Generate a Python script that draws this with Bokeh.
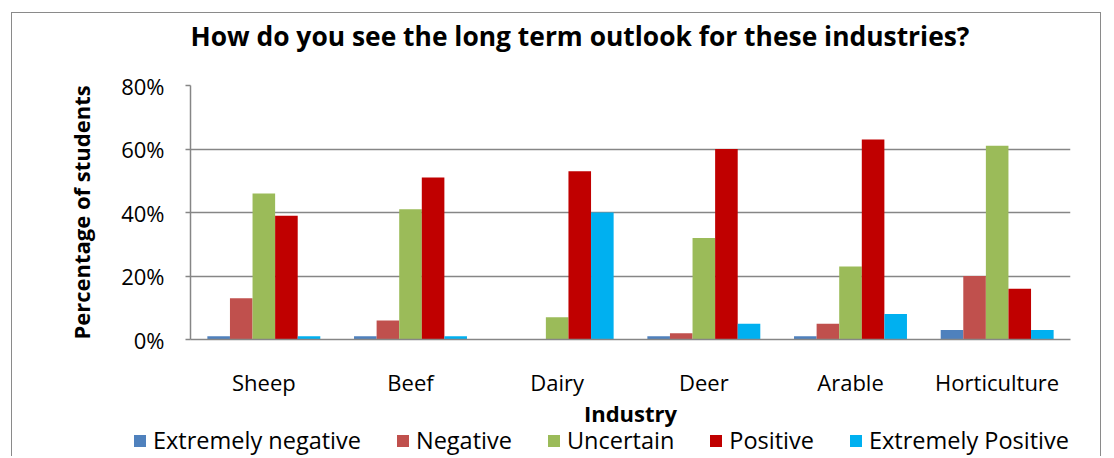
from bokeh.plotting import figure
from bokeh.models import (FactorRange, Range1d, NumeralTickFormatter, FixedTicker, Legend,
                          LegendItem, Label, ColumnDataSource)
from bokeh.transform import dodge
from bokeh.embed import file_html
from bokeh.resources import INLINE

title_text = "How do you see the long term outlook for these industries?"
industries = ["Sheep", "Beef", "Dairy", "Deer", "Arable", "Horticulture"]
series_names = ["Extremely negative", "Negative", "Uncertain", "Positive", "Extremely Positive"]
extremely_negative = [0.01, 0.01, 0.00, 0.01, 0.01, 0.03]
negative = [0.13, 0.06, 0.00, 0.02, 0.05, 0.20]
uncertain = [0.46, 0.41, 0.07, 0.32, 0.23, 0.61]
positive = [0.39, 0.51, 0.53, 0.60, 0.63, 0.16]
extremely_positive = [0.01, 0.01, 0.40, 0.05, 0.08, 0.03]
y_ticks = [0, 0.2, 0.4, 0.6, 0.8]
colors = ["#4F81BD", "#C0504D", "#9BBB59", "#C00000", "#00B0F0"]

FONT = "Open Sans"
W = 1090
TH, MH, LH = 58, 362, 32
BORDER = "1.5px solid #8a8a8a"


def blank(h, styles, margin=(0, 0, 0, 11)):
    f = figure(width=W, height=h, output_backend="svg", toolbar_location=None,
               x_axis_location=None, y_axis_location=None,
               x_range=Range1d(0, W), y_range=Range1d(h, 0),
               min_border_left=0, min_border_right=0, min_border_top=0, min_border_bottom=0,
               margin=margin, styles=styles)
    f.outline_line_color = None
    f.grid.grid_line_color = None
    return f


# ---- title strip
pt = blank(TH, {"border-top": BORDER, "border-left": BORDER, "border-right": BORDER},
           margin=(12, 0, 0, 11))
pt.add_layout(Label(x=178, y=22, text=title_text, text_font=FONT, text_font_size="26.4px",
                    text_font_style="bold", text_color="#000000", text_baseline="middle"))

# ---- main chart
src = ColumnDataSource(dict(ind=industries, en=extremely_negative, ng=negative,
                            un=uncertain, po=positive, ep=extremely_positive))
p = figure(x_range=FactorRange(*industries, range_padding=0), y_range=Range1d(0, 0.8),
           width=W, height=MH, output_backend="svg", toolbar_location=None,
           min_border_left=178, min_border_right=32, min_border_top=15, min_border_bottom=93,
           margin=(0, 0, 0, 11), styles={"border-left": BORDER, "border-right": BORDER})

bw = 0.154
cols = ["en", "ng", "un", "po", "ep"]
for i, c in enumerate(cols):
    p.vbar(x=dodge("ind", (i - 2) * bw, range=p.x_range), top=c, width=bw, source=src,
           fill_color=colors[i], line_color=None)

p.outline_line_color = None
p.xgrid.grid_line_color = None
p.ygrid.grid_line_color = "#868686"
p.ygrid.grid_line_width = 1.5

p.yaxis.ticker = FixedTicker(ticks=y_ticks)
p.yaxis.formatter = NumeralTickFormatter(format="0%")
p.yaxis.axis_label = "Percentage of students"
p.yaxis.axis_label_text_font = FONT
p.yaxis.axis_label_text_font_size = "22px"
p.yaxis.axis_label_text_font_style = "bold"
p.yaxis.axis_label_text_color = "#000000"
p.yaxis.axis_label_standoff = 22
p.yaxis.major_label_text_font = FONT
p.yaxis.major_label_text_font_size = "22px"
p.yaxis.major_label_text_color = "#000000"
p.yaxis.major_label_standoff = 21
p.yaxis.major_tick_out = 5
p.yaxis.major_tick_in = 0
p.yaxis.minor_tick_line_color = None
p.yaxis.axis_line_color = "#868686"
p.yaxis.axis_line_width = 1.5
p.yaxis.major_tick_line_color = "#868686"
p.yaxis.major_tick_line_width = 1.5

p.xaxis.axis_label = "Industry"
p.xaxis.axis_label_text_font = FONT
p.xaxis.axis_label_text_font_size = "22px"
p.xaxis.axis_label_text_font_style = "bold"
p.xaxis.axis_label_text_color = "#000000"
p.xaxis.axis_label_standoff = -2
p.xaxis.major_label_text_font = FONT
p.xaxis.major_label_text_font_size = "22px"
p.xaxis.major_label_text_color = "#000000"
p.xaxis.major_label_standoff = 27
p.xaxis.major_tick_out = 0
p.xaxis.major_tick_in = 0
p.xaxis.axis_line_color = "#868686"
p.xaxis.axis_line_width = 1.5

# ---- legend strip
pl = blank(LH, {"border-left": BORDER, "border-right": BORDER}, margin=(-8, 0, 0, 11))
pl.background_fill_color = None
pl.border_fill_color = None
items = []
for name, col in zip(series_names, colors):
    r = pl.rect(x=[-1e6], y=[-1e6], width=1, height=1, fill_color=col, line_color=None)
    items.append(LegendItem(label=name, renderers=[r]))
legend = Legend(items=items, orientation="horizontal", location=(120, 0), margin=0,
                glyph_width=15, glyph_height=15, label_standoff=6, spacing=34, padding=0,
                label_text_font=FONT, label_text_font_size="23.5px", label_text_color="#000000",
                border_line_color=None, background_fill_alpha=0)
pl.add_layout(legend, "center")

open("out.html", "w").write(file_html([pt, p, pl], INLINE))
